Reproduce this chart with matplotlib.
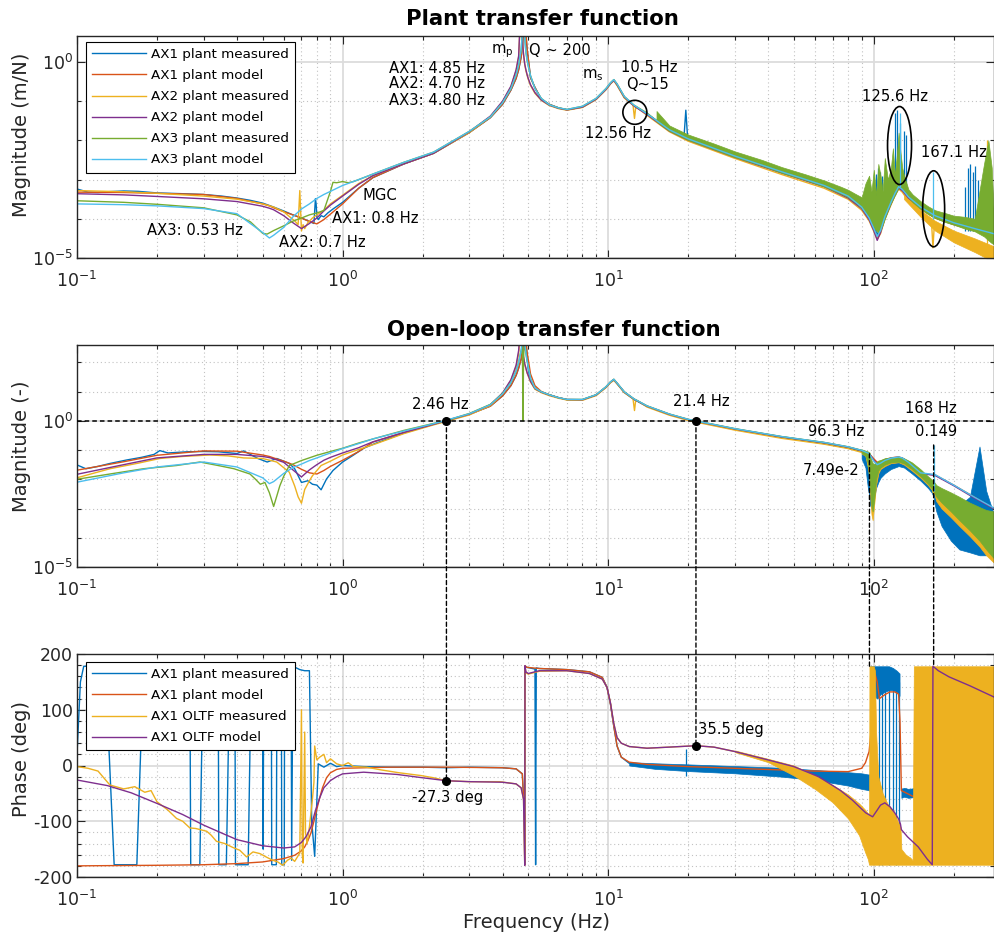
import numpy as np
import matplotlib
matplotlib.use("Agg")
import matplotlib.pyplot as plt
from matplotlib.patches import Ellipse, ConnectionPatch
from matplotlib.ticker import FixedLocator, FixedFormatter, LogLocator, MultipleLocator, NullFormatter
from matplotlib.transforms import ScaledTranslation

plt.rcParams['font.family'] = ['DejaVu Sans']
plt.rcParams['mathtext.fontset'] = 'dejavusans'
plt.rcParams['axes.unicode_minus'] = False

C_B = '#0072BD'; C_O = '#D95319'; C_Y = '#EDB120'; C_P = '#7E2F8E'; C_G = '#77AC30'; C_L = '#4DBEEE'
LW = 1.0

# ===================== DATA =====================
# common frequency grid of the model curves (Hz)
F_MODEL = [0.1, 0.15, 0.2, 0.3, 0.4, 0.5, 0.53, 0.55, 0.6, 0.65,
           0.7, 0.75, 0.8, 0.85, 0.9, 1.0, 1.15, 1.3, 1.7, 2.2,
           3.0, 3.6, 4.0, 4.3, 4.5, 4.6, 4.7, 4.75, 4.8, 4.85,
           4.9, 4.95, 5.0, 5.1, 5.3, 5.6, 6.0, 6.5, 7.0, 8.0,
           9.0, 9.8, 10.2, 10.5, 10.8, 11.5, 12.5, 14, 17, 20,
           30, 45, 65, 80, 90, 96, 100, 103, 106, 110,
           116, 120, 124, 128, 135, 150, 170, 200, 240, 283]

# ---- plant magnitude, log10(m/N) ----
PLANT_AX1_MODEL = [-3.32, -3.33, -3.35, -3.38, -3.48, -3.62, -3.67, -3.72, -3.82, -3.90,
                   -3.98, -4.07, -4.13, -4.02, -3.88, -3.62, -3.22, -2.95, -2.60, -2.33,
                   -1.80, -1.42, -1.08, -0.72, -0.42, -0.20, 0.12, 0.38, 0.80, 1.60,
                   0.75, 0.35, 0.10, -0.40, -0.65, -0.95, -1.08, -1.17, -1.22, -1.15,
                   -0.95, -0.70, -0.55, -0.46, -0.58, -0.90, -1.12, -1.33, -1.75, -1.98,
                   -2.42, -2.82, -3.17, -3.45, -3.72, -4.00, -4.25, -4.48, -4.30, -3.95,
                   -3.60, -3.38, -3.20, -3.26, -3.48, -3.75, -3.98, -4.15, -4.30, -4.42]
PLANT_AX2_MODEL = [-3.36, -3.39, -3.43, -3.49, -3.56, -3.68, -3.73, -3.77, -3.92, -4.10,
                   -4.25, -4.12, -3.98, -3.80, -3.65, -3.42, -3.12, -2.90, -2.60, -2.33,
                   -1.78, -1.38, -1.00, -0.62, -0.20, 0.15, 1.60, 0.60, 0.20, -0.05,
                   -0.20, -0.32, -0.42, -0.58, -0.78, -0.97, -1.10, -1.18, -1.22, -1.15,
                   -0.95, -0.70, -0.55, -0.47, -0.58, -0.90, -1.12, -1.34, -1.76, -1.99,
                   -2.43, -2.83, -3.18, -3.47, -3.74, -4.02, -4.30, -4.55, -4.35, -4.00,
                   -3.62, -3.40, -3.22, -3.28, -3.47, -3.72, -3.93, -4.10, -4.25, -4.36]
PLANT_AX3_MODEL = [-3.62, -3.64, -3.67, -3.74, -3.87, -4.35, -4.49, -4.42, -4.22, -3.95,
                   -3.75, -3.62, -3.48, -3.38, -3.30, -3.15, -3.00, -2.86, -2.56, -2.30,
                   -1.77, -1.40, -1.04, -0.68, -0.33, -0.08, 0.30, 0.75, 1.60, 0.60,
                   0.25, 0.05, -0.10, -0.35, -0.68, -0.93, -1.09, -1.17, -1.21, -1.13,
                   -0.93, -0.68, -0.53, -0.45, -0.56, -0.88, -1.10, -1.32, -1.73, -1.96,
                   -2.40, -2.80, -3.15, -3.42, -3.70, -3.98, -4.25, -4.45, -4.30, -3.95,
                   -3.58, -3.36, -3.18, -3.25, -3.44, -3.70, -3.92, -4.10, -4.25, -4.38]

F_PLANT_AX1_MEAS = [0.1, 0.105, 0.11, 0.12, 0.13, 0.15, 0.17, 0.2, 0.25, 0.3,
                    0.35, 0.4, 0.45, 0.5, 0.55, 0.6, 0.65, 0.7, 0.74, 0.78,
                    0.79, 0.795, 0.8, 0.81, 0.83, 0.85, 0.88, 0.92, 1.0, 1.15,
                    1.3, 1.7, 2.2, 3.0, 3.6, 4.0, 4.3, 4.5, 4.6, 4.7,
                    4.75, 4.8, 4.85, 4.9, 4.95, 5.0, 5.1, 5.3, 5.6, 6.0,
                    6.5, 7.0, 8.0, 9.0, 9.8, 10.2, 10.5, 10.8, 11.5, 12.5,
                    14, 17, 19.3, 19.6, 19.9, 30, 45, 65, 80, 90,
                    96, 100, 103, 106, 110, 116, 120, 124, 128, 135,
                    150, 170, 200, 240, 283]
PLANT_AX1_MEAS = [-3.24, -3.28, -3.32, -3.33, -3.31, -3.29, -3.30, -3.34, -3.36, -3.38,
                  -3.42, -3.47, -3.53, -3.60, -3.70, -3.80, -3.90, -3.98, -4.05, -4.12,
                  -3.49, -3.62, -3.95, -4.02, -3.92, -3.95, -3.85, -3.75, -3.58, -3.22,
                  -2.95, -2.60, -2.33, -1.80, -1.42, -1.08, -0.72, -0.42, -0.20, 0.12,
                  0.38, 0.80, 1.50, 0.70, 0.33, 0.08, -0.40, -0.65, -0.95, -1.08,
                  -1.17, -1.22, -1.15, -0.95, -0.70, -0.55, -0.46, -0.58, -0.90, -1.12,
                  -1.32, -1.72, -1.90, -1.23, -1.92, -2.38, -2.78, -3.12, -3.38, -3.62,
                  -3.90, -4.20, -4.40, -4.22, -3.90, -3.55, -3.32, -3.15, -3.22, -3.45,
                  -3.72, -3.95, -4.12, -4.22, -4.30]

F_PLANT_AX2_MEAS = [0.1, 0.15, 0.2, 0.3, 0.4, 0.5, 0.55, 0.6, 0.64, 0.66,
                    0.68, 0.69, 0.7, 0.71, 0.72, 0.74, 0.77, 0.8, 0.85, 0.9,
                    1.0, 1.15, 1.3, 1.7, 2.2, 3.0, 3.6, 4.0, 4.3, 4.5,
                    4.6, 4.7, 4.75, 4.8, 4.85, 4.9, 4.95, 5.0, 5.1, 5.3,
                    5.6, 6.0, 6.5, 7.0, 8.0, 9.0, 9.8, 10.2, 10.5, 10.8,
                    11.5, 12.4, 12.56, 12.7, 14, 17, 20, 30, 45, 65,
                    80, 90, 96, 100, 103, 106, 110, 116, 120, 124,
                    128, 135, 150, 165, 167, 169, 200, 240, 283]
PLANT_AX2_MEAS = [-3.28, -3.31, -3.35, -3.42, -3.50, -3.62, -3.70, -3.82, -3.98, -4.05,
                  -4.15, -3.28, -4.31, -4.15, -4.25, -4.10, -3.98, -3.90, -3.78, -3.62,
                  -3.40, -3.10, -2.90, -2.60, -2.33, -1.80, -1.40, -1.02, -0.64, -0.22,
                  0.12, 1.50, 0.55, 0.18, -0.07, -0.22, -0.34, -0.44, -0.60, -0.80,
                  -0.98, -1.11, -1.19, -1.23, -1.16, -0.96, -0.71, -0.56, -0.48, -0.60,
                  -0.92, -1.10, -1.44, -1.14, -1.36, -1.78, -2.02, -2.46, -2.87, -3.22,
                  -3.50, -3.78, -4.05, -4.32, -4.52, -4.38, -4.02, -3.65, -3.42, -3.24,
                  -3.32, -3.55, -3.85, -4.10, -4.74, -4.15, -4.40, -4.60, -4.80]

F_PLANT_AX3_MEAS = [0.1, 0.15, 0.2, 0.3, 0.4, 0.45, 0.5, 0.52, 0.55, 0.6,
                    0.65, 0.7, 0.75, 0.8, 0.85, 0.9, 0.92, 0.95, 1.0, 1.05,
                    1.1, 1.15, 1.3, 1.7, 2.2, 3.0, 3.6, 4.0, 4.3, 4.5,
                    4.6, 4.7, 4.75, 4.8, 4.85, 4.9, 4.95, 5.0, 5.1, 5.3,
                    5.6, 6.0, 6.5, 7.0, 8.0, 9.0, 9.8, 10.2, 10.5, 10.8,
                    11.5, 12.5, 14, 15.2]
PLANT_AX3_MEAS = [-3.54, -3.58, -3.63, -3.72, -3.90, -4.08, -4.37, -4.39, -4.30, -4.18,
                  -4.06, -3.98, -3.90, -3.85, -3.79, -3.30, -3.07, -3.08, -3.05, -3.08,
                  -3.05, -3.00, -2.86, -2.56, -2.30, -1.77, -1.40, -1.04, -0.68, -0.33,
                  -0.08, 0.30, 0.75, 1.50, 0.60, 0.25, 0.05, -0.10, -0.35, -0.68,
                  -0.93, -1.09, -1.17, -1.21, -1.13, -0.93, -0.68, -0.53, -0.45, -0.56,
                  -0.88, -1.10, -1.30, -1.50]
# noisy high-frequency part of AX3 plant measured (envelope, log10)
F_PLANT_AX3_BAND = [15.2, 17, 20, 25, 30, 38, 45, 55, 65, 75,
                    80, 85, 90, 93, 96, 98, 100, 102, 104, 106,
                    108, 110, 113, 116, 118, 120, 122, 124, 126, 128,
                    130, 135, 140, 150, 160, 170, 185, 200, 220, 240,
                    260, 270, 278, 283]
PLANT_AX3_BAND_LO = [-1.52, -1.76, -1.99, -2.23, -2.43, -2.65, -2.83, -3.01, -3.18, -3.36,
                     -3.45, -3.58, -3.73, -3.85, -3.98, -4.10, -4.22, -4.30, -4.35, -4.28,
                     -4.15, -4.00, -3.78, -3.60, -3.50, -3.40, -3.30, -3.20, -3.20, -3.25,
                     -3.30, -3.45, -3.58, -3.75, -3.88, -3.98, -4.08, -4.15, -4.25, -4.32,
                     -4.45, -4.55, -4.62, -4.65]
PLANT_AX3_BAND_HI = [-1.25, -1.62, -1.85, -2.08, -2.28, -2.50, -2.68, -2.86, -3.02, -3.18,
                     -3.26, -3.36, -3.45, -3.10, -2.90, -3.30, -2.75, -3.40, -2.60, -2.90,
                     -3.30, -2.45, -3.00, -2.70, -2.20, -2.90, -2.40, -1.80, -2.30, -2.70,
                     -2.90, -3.25, -3.38, -3.55, -3.68, -3.78, -3.85, -3.92, -3.95, -4.00,
                     -2.60, -2.00, -2.70, -3.90]
F_PLANT_AX2_BAND = [130, 150, 170, 200, 240, 283]
PLANT_AX2_BAND_LO = [-3.50, -3.95, -4.30, -4.60, -4.85, -5.10]
PLANT_AX2_BAND_HI = [-3.30, -3.78, -4.05, -4.30, -4.50, -4.70]
# isolated spikes (freq, log10 low, log10 high)
PLANT_AX1_SPIKE_F = [100.5, 102, 103.5, 105.5, 107.5, 109.5, 120, 122.4, 126, 129.7,
                     132.3, 221, 226, 231, 236, 241, 247, 253]
PLANT_AX1_SPIKE_LO = [-4.2, -4.3, -4.3, -4.2, -4.0, -3.9, -3.4, -3.3, -3.2, -3.3,
                      -3.4, -4.3, -4.3, -4.3, -4.3, -4.3, -4.3, -4.3]
PLANT_AX1_SPIKE_HI = [-3.0, -2.85, -2.7, -2.8, -2.9, -3.1, -1.3, -1.23, -1.55, -1.75,
                      -1.85, -3.2, -2.7, -2.6, -2.8, -2.65, -3.0, -3.3]
PLANT_AX2_SPIKE_F = [266]
PLANT_AX2_SPIKE_LO = [-4.9]
PLANT_AX2_SPIKE_HI = [-2.0]
PLANT_AX3_MODEL_SPIKE_F = [125.6, 167.1]
PLANT_AX3_MODEL_SPIKE_LO = [-3.2, -4.0]
PLANT_AX3_MODEL_SPIKE_HI = [-1.3, -2.81]

# ---- open-loop magnitude, log10(-) ----
OL_AX1_MODEL = [-1.69, -1.40, -1.18, -1.03, -1.04, -1.17, -1.22, -1.27, -1.38, -1.50,
                -1.66, -1.78, -1.82, -1.70, -1.56, -1.35, -1.05, -0.73, -0.40, -0.12,
                0.22, 0.50, 0.85, 1.20, 1.55, 1.80, 2.10, 2.35, 2.75, 3.50,
                2.75, 2.35, 2.10, 1.60, 1.20, 1.00, 0.89, 0.79, 0.72, 0.72,
                0.88, 1.15, 1.32, 1.41, 1.28, 0.98, 0.74, 0.50, 0.22, 0.04,
                -0.28, -0.55, -0.75, -0.90, -1.02, -1.12, -1.30, -1.42, -1.40, -1.33,
                -1.27, -1.25, -1.24, -1.27, -1.42, -1.80, -1.85, -2.20, -2.62, -3.00]
OL_AX2_MODEL = [-1.83, -1.50, -1.27, -1.15, -1.15, -1.22, -1.26, -1.30, -1.42, -1.68,
                -1.92, -1.68, -1.50, -1.35, -1.25, -1.10, -0.92, -0.72, -0.40, -0.12,
                0.23, 0.55, 0.95, 1.40, 1.90, 2.40, 3.50, 2.60, 2.20, 1.95,
                1.80, 1.65, 1.55, 1.35, 1.10, 0.98, 0.88, 0.79, 0.73, 0.72,
                0.88, 1.15, 1.32, 1.41, 1.28, 0.98, 0.74, 0.50, 0.22, 0.04,
                -0.28, -0.55, -0.75, -0.90, -1.02, -1.12, -1.35, -1.48, -1.43, -1.35,
                -1.28, -1.26, -1.25, -1.28, -1.43, -1.80, -1.87, -2.22, -2.65, -3.00]
OL_AX3_MODEL = [-2.10, -1.78, -1.58, -1.41, -1.58, -1.95, -2.15, -2.08, -1.80, -1.60,
                -1.48, -1.36, -1.27, -1.18, -1.10, -0.95, -0.78, -0.62, -0.35, -0.10,
                0.24, 0.55, 0.92, 1.30, 1.70, 2.00, 2.40, 2.80, 3.50, 2.70,
                2.30, 2.05, 1.85, 1.45, 1.12, 0.99, 0.89, 0.79, 0.73, 0.73,
                0.89, 1.16, 1.33, 1.42, 1.29, 0.99, 0.75, 0.51, 0.23, 0.05,
                -0.27, -0.54, -0.74, -0.89, -1.01, -1.12, -1.38, -1.50, -1.45, -1.36,
                -1.28, -1.26, -1.24, -1.27, -1.42, -1.78, -1.84, -2.20, -2.62, -2.98]

F_OL_AX1_MEAS = [0.1, 0.108, 0.12, 0.133, 0.154, 0.175, 0.195, 0.205, 0.22, 0.26,
                 0.3, 0.34, 0.4, 0.424, 0.48, 0.52, 0.565, 0.6, 0.63, 0.66,
                 0.7, 0.74, 0.77, 0.8, 0.83, 0.87, 0.92, 1.0, 1.1, 1.2,
                 1.34, 1.7, 2.2, 2.46, 3.0, 3.6, 4.0, 4.3, 4.5, 4.6,
                 4.7, 4.75, 4.8, 4.85, 4.9, 4.95, 5.0, 5.1, 5.3, 5.6,
                 6.0, 6.5, 7.0, 8.0, 9.0, 9.8, 10.2, 10.5, 10.8, 11.5,
                 12.5, 14, 17, 20, 30, 45, 65, 80, 90]
OL_AX1_MEAS = [-1.51, -1.64, -1.56, -1.46, -1.34, -1.25, -1.15, -1.02, -1.10, -1.06,
               -1.05, -1.06, -1.12, -1.03, -1.29, -1.41, -1.29, -1.38, -1.46, -1.64,
               -2.11, -2.05, -2.17, -2.20, -2.36, -1.99, -1.70, -1.41, -1.17, -0.94,
               -0.76, -0.42, -0.12, 0.00, 0.22, 0.50, 0.85, 1.20, 1.55, 1.80,
               2.10, 2.35, 2.75, 3.40, 2.70, 2.20, 1.75, 1.35, 1.10, 0.99,
               0.89, 0.79, 0.72, 0.72, 0.88, 1.15, 1.32, 1.40, 1.27, 0.97,
               0.73, 0.49, 0.21, 0.03, -0.29, -0.57, -0.78, -0.93, -1.05]
F_OL_AX2_MEAS = [0.1, 0.133, 0.17, 0.205, 0.25, 0.316, 0.37, 0.424, 0.5, 0.565,
                 0.63, 0.66, 0.68, 0.70, 0.72, 0.75, 0.77, 0.83, 0.9, 1.0,
                 1.15, 1.34, 1.7, 2.2, 2.46, 3.0, 3.6, 4.0, 4.3, 4.5,
                 4.6, 4.65, 4.7, 4.75, 4.8, 4.85, 4.9, 4.95, 5.0, 5.1,
                 5.3, 5.6, 6.0, 6.5, 7.0, 8.0, 9.0, 9.8, 10.2, 10.5,
                 10.8, 11.5, 12.4, 12.56, 12.7, 14, 17, 20, 30, 45,
                 65, 80, 90]
OL_AX2_MEAS = [-1.95, -1.64, -1.45, -1.29, -1.22, -1.17, -1.20, -1.27, -1.29, -1.41,
               -1.76, -2.23, -2.60, -2.82, -2.35, -2.05, -1.88, -1.53, -1.38, -1.17,
               -0.98, -0.78, -0.44, -0.14, -0.02, 0.20, 0.52, 0.92, 1.38, 1.85,
               2.30, 2.80, 3.40, 2.50, 2.15, 1.92, 1.78, 1.63, 1.53, 1.33,
               1.08, 0.96, 0.86, 0.77, 0.71, 0.70, 0.86, 1.13, 1.30, 1.38,
               1.26, 0.96, 0.75, 0.35, 0.72, 0.47, 0.19, 0.01, -0.32, -0.60,
               -0.80, -0.95, -1.08]
F_OL_AX3_MEAS = [0.1, 0.133, 0.178, 0.237, 0.29, 0.34, 0.39, 0.448, 0.47, 0.49,
                 0.51, 0.53, 0.55, 0.565, 0.58, 0.6, 0.63, 0.7, 0.8, 0.9,
                 1.0, 1.15, 1.34, 1.7, 2.2, 2.46, 3.0, 3.6, 4.0, 4.3,
                 4.5, 4.6, 4.7, 4.75, 4.78, 4.8, 4.85, 4.9, 4.95, 5.0,
                 5.1, 5.3, 5.6, 6.0, 6.5, 7.0, 8.0, 9.0, 9.8, 10.2,
                 10.5, 10.8, 11.5, 12.5, 14, 17, 20, 30, 45, 65,
                 80, 90]
OL_AX3_MEAS = [-2.00, -1.82, -1.64, -1.53, -1.41, -1.53, -1.64, -1.82, -2.00, -2.17,
               -2.11, -2.46, -2.93, -2.58, -2.23, -1.90, -1.53, -1.36, -1.18, -1.05,
               -0.94, -0.76, -0.59, -0.33, -0.09, 0.01, 0.25, 0.56, 0.93, 1.30,
               1.70, 2.00, 2.40, 2.60, 0.00, 2.20, 2.70, 2.30, 2.05, 1.85,
               1.45, 1.12, 0.99, 0.89, 0.79, 0.73, 0.73, 0.89, 1.16, 1.33,
               1.42, 1.29, 0.99, 0.75, 0.51, 0.23, 0.05, -0.27, -0.54, -0.74,
               -0.89, -1.01]
# noisy high-frequency envelopes of the open-loop measurements (log10)
F_OL_BAND = [90, 93, 95, 96.3, 97, 98, 99, 100, 101, 102,
             104, 106, 110, 116, 124, 130, 139, 150, 160, 165,
             167, 168, 169, 172, 180, 195, 210, 230, 250, 265, 283]
OL_AX1_BAND_LO = [-1.3, -1.6, -2.3, -2.6, -2.9, -3.0, -2.9, -2.7, -2.5, -2.3,
                  -2.1, -1.95, -1.8, -1.65, -1.55, -1.6, -1.8, -2.05, -2.3, -2.45,
                  -2.55, -2.6, -2.8, -3.1, -3.6, -4.1, -4.4, -4.5, -4.6, -4.6, -4.5]
OL_AX1_BAND_HI = [-1.0, -1.05, -1.1, -1.15, -1.35, -1.45, -1.5, -1.5, -1.48, -1.44,
                  -1.4, -1.36, -1.3, -1.27, -1.25, -1.3, -1.45, -1.7, -1.95, -2.05,
                  -2.1, -2.1, -2.15, -2.3, -2.5, -2.7, -2.9, -2.6, -0.88, -2.4, -3.2]
OL_AX2_BAND_LO = [-1.12, -1.2, -1.6, -2.0, -2.6, -3.2, -3.4, -3.0, -2.6, -2.2,
                  -1.8, -1.65, -1.55, -1.45, -1.42, -1.50, -1.70, -1.95, -2.2, -2.35,
                  -2.5, -2.45, -2.5, -2.75, -3.0, -3.3, -3.6, -3.95, -4.3, -4.6, -4.85]
OL_AX2_BAND_HI = [-1.0, -1.05, -1.08, -1.12, -1.3, -1.45, -1.5, -1.52, -1.5, -1.45,
                  -1.4, -1.38, -1.32, -1.28, -1.26, -1.32, -1.45, -1.7, -1.95, -2.05,
                  -2.1, -2.1, -2.15, -2.3, -2.45, -2.6, -2.8, -3.0, -3.2, -3.4, -3.6]
OL_AX3_BAND_LO = [-1.1, -1.2, -1.45, -1.9, -2.4, -2.9, -3.1, -2.8, -2.4, -2.0,
                  -1.7, -1.6, -1.5, -1.42, -1.4, -1.46, -1.65, -1.9, -2.15, -2.3,
                  -2.4, -2.4, -2.45, -2.6, -2.8, -3.1, -3.4, -3.75, -4.1, -4.4, -4.7]
OL_AX3_BAND_HI = [-0.98, -1.02, -1.05, -1.08, -1.2, -1.35, -1.45, -1.48, -1.46, -1.42,
                  -1.36, -1.34, -1.28, -1.25, -1.22, -1.28, -1.42, -1.66, -1.9, -2.0,
                  -2.05, -2.05, -2.1, -2.2, -2.3, -2.45, -2.6, -2.8, -2.95, -3.05, -3.1]
OL_AX3_MODEL_SPIKE_F = [168.0]
OL_AX3_MODEL_SPIKE_LO = [-2.4]
OL_AX3_MODEL_SPIKE_HI = [-0.83]

# ---- phase (deg) ----
F_PH_PLANT_MODEL = [0.1, 0.2, 0.3, 0.4, 0.5, 0.6, 0.66, 0.7, 0.72, 0.74,
                    0.76, 0.78, 0.8, 0.82, 0.84, 0.87, 0.9, 0.95, 1.0, 1.5,
                    2.5, 4.0, 4.5, 4.75, 4.84, 4.85, 4.86, 4.95, 5.5, 7.0,
                    8.5, 9.5, 9.9, 10.2, 10.5, 10.8, 11.2, 12, 14, 20,
                    30, 45, 60, 80, 90, 93, 96, 99, 100, 101,
                    103, 105, 110, 115, 120, 124, 125.5, 127, 140, 160,
                    200, 283]
PH_PLANT_MODEL = [-180, -179, -178, -176, -173, -167, -161, -153, -146, -135,
                  -121, -100, -78, -58, -40, -22, -13, -7, -5, -3,
                  -3, -4, -6, -15, -90, -179, 179, 176, 174, 172,
                  168, 158, 140, 110, 70, 35, 15, 6, 2, -2,
                  -5, -8, -10, -11, -5, 5, 25, 90, 140, 165,
                  150, 120, 127, 132, 132, 128, 80, -45, -55, -62,
                  -70, -75]
F_PH_OLTF_MODEL = [0.1, 0.13, 0.16, 0.2, 0.25, 0.3, 0.35, 0.4, 0.5, 0.6,
                   0.66, 0.7, 0.73, 0.76, 0.79, 0.82, 0.85, 0.9, 0.95, 1.0,
                   1.2, 1.6, 2.0, 2.46, 3.0, 4.0, 4.5, 4.7, 4.8, 4.85,
                   4.86, 4.9, 5.0, 5.5, 7.0, 8.5, 9.5, 9.9, 10.2, 10.5,
                   10.8, 11.2, 12, 14, 17, 21.4, 25, 30, 40, 50,
                   62, 75, 83, 90, 93.3, 99, 103, 106, 110, 115,
                   120, 124, 126, 127, 134, 147, 159, 166, 167, 175,
                   192, 230, 283]
PH_OLTF_MODEL = [-26, -36, -49, -68, -88, -107, -121, -133, -144, -148,
                 -146, -138, -127, -110, -81, -58, -40, -27, -20, -15,
                 -12, -16, -22, -27.3, -29, -30, -33, -40, -60, -179,
                 179, 168, 165, 170, 170, 165, 155, 140, 112, 75,
                 50, 40, 34, 31, 33, 35.5, 33, 25, 10, -2,
                 -20, -45, -62, -78, -85, -92, -80, -71, -67, -74,
                 -85, -96, -105, -115, -128, -146, -168, -178, 178, 170,
                 159, 143, 123]
F_PH_OLTF_MEAS = [0.1, 0.11, 0.12, 0.133, 0.15, 0.165, 0.18, 0.19, 0.2, 0.22,
                  0.237, 0.25, 0.266, 0.28, 0.308, 0.32, 0.335, 0.36, 0.386, 0.41,
                  0.435, 0.46, 0.488, 0.52, 0.546, 0.57, 0.595, 0.62, 0.64, 0.66,
                  0.69, 0.70, 0.705, 0.71, 0.72, 0.725, 0.735, 0.75, 0.77, 0.78,
                  0.785, 0.8, 0.82, 0.85, 0.87, 0.9, 0.95, 1.0, 1.05, 1.1,
                  1.23, 1.4, 1.63, 1.97, 2.2, 2.46, 3.0, 3.9, 4.5, 4.7,
                  4.8, 4.85, 4.86, 4.9, 5.0, 5.5, 7.0, 8.5, 9.5, 9.9,
                  10.2, 10.5, 10.8, 11.2, 12, 14, 17, 21.4, 25, 30]
PH_OLTF_MEAS = [-2, -5, -10, -35, -42, -38, -48, -45, -65, -80,
                -95, -100, -112, -113, -118, -125, -136, -140, -147, -152,
                -164, -155, -158, -165, -170, -173, -179, -170, -166, -172,
                -157, 100, -160, -175, 60, -120, -140, -110, -60, -30,
                35, 10, 15, 20, 5, 12, 3, 0, 5, -2,
                -3, -8, -13, -18, -22, -27.3, -29, -29, -33, -40,
                -60, -178, 178, 166, 164, 169, 170, 165, 155, 140,
                112, 75, 50, 40, 34, 31, 33, 35.5, 33, 25]
F_PH_OLTF_BAND = [30, 40, 50, 60, 70, 80, 88, 93, 95, 96.0,
                  96.3, 98, 100, 101, 102, 104, 108, 113, 118, 123,
                  126, 127, 132, 137, 140, 141.5, 143, 283]
PH_OLTF_BAND_LO = [24, 6, -18, -42, -66, -95, -125, -157, -168, -178,
                   -178, -178, -178, -178, -178, -178, -178, -178, -178, -178,
                   -178, -178, -178, -178, -178, -178, -178, -178]
PH_OLTF_BAND_HI = [27, 12, 0, -18, -35, -52, -68, -80, -86, -88,
                   178, 178, 178, 170, 60, -20, -50, -70, -80, -100,
                   -110, -150, -160, -165, -170, 178, 178, 178]
F_PH_PLANT_MEAS = [0.1, 0.103, 0.106, 0.126, 0.128, 0.138, 0.168, 0.178, 0.266, 0.268,
                   0.29, 0.2985, 0.34, 0.342, 0.35, 0.365, 0.376, 0.393, 0.395, 0.441,
                   0.453, 0.500, 0.502, 0.505, 0.539, 0.541, 0.563, 0.566, 0.588, 0.59,
                   0.603, 0.605, 0.64, 0.643, 0.65, 0.69, 0.72, 0.75, 0.765, 0.785,
                   0.81, 0.85, 0.9, 0.95, 1.0, 1.2, 1.5, 2.0, 2.46, 3.0,
                   4.0, 4.5, 4.75, 4.84, 4.85, 4.86, 4.95, 5.3, 5.33, 5.36,
                   5.5, 7.0, 8.5, 9.5, 9.9, 10.2, 10.5, 10.8, 11.2, 12]
PH_PLANT_MEAS = [20, 150, 178, 178, 170, -178, -178, 178, 178, -178,
                 -178, 178, 178, -178, -178, -178, 178, 178, -178, -178,
                 178, 178, -150, 178, 178, -178, -178, 178, 178, -178,
                 -178, 178, 178, -170, 178, 172, 170, 170, -100, -163,
                 3, -3, 4, -2, 0, -2, -3, -3, -4, -3,
                 -4, -6, -15, -90, -178, 178, 176, 173, -178, 175,
                 174, 172, 168, 158, 140, 110, 70, 35, 15, 4]
F_PH_PLANT_BAND1 = [12, 15, 20, 30, 45, 60, 80, 90, 95, 96.3]
PH_PLANT_BAND1_LO = [0, -6, -10, -14, -20, -26, -36, -42, -44, -45]
PH_PLANT_BAND1_HI = [6, 4, 2, -1, -4, -8, -12, -14, -16, -16]
F_PH_PLANT_BAND2 = [97, 100, 103, 106, 110, 114, 118, 122, 125]
PH_PLANT_BAND2_LO = [150, 125, 120, 128, 132, 135, 135, 132, 125]
PH_PLANT_BAND2_HI = [178, 178, 178, 178, 178, 178, 175, 170, 165]
F_PH_PLANT_BAND3 = [127, 130, 135, 140, 142]
PH_PLANT_BAND3_LO = [-58, -56, -58, -57, -56]
PH_PLANT_BAND3_HI = [-42, -40, -42, -41, -40]
PH_PLANT_SPIKE_F = [19.6, 104.4, 107.4, 110.6, 113.8, 117.8, 121.3, 124.2]
PH_PLANT_SPIKE_LO = [-18, -178, -178, -170, -178, -165, -178, -150]
PH_PLANT_SPIKE_HI = [30, 150, 140, 150, 140, 150, 140, 150]

# ---- marked points ----
UGF_FREQ = [2.46, 21.4]
UGF_PHASE = [-27.3, 35.5]
GM_FREQ = [96.3, 168.0]
GM_MAG = [7.49e-2, 0.149]
GM_PHASE_TOP = [178, 178]

# ===================== FIGURE =====================
W, H, DPI = 994, 940, 100
fig = plt.figure(figsize=(W / DPI, H / DPI), dpi=DPI)


def px_axes(left, top, right, bottom):
    return fig.add_axes([left / W, 1 - bottom / H, (right - left) / W, (bottom - top) / H])


ax1 = px_axes(77, 36, 994, 258)
ax2 = px_axes(77, 345, 994, 567)
ax3 = px_axes(77, 654, 994, 877)


def L(v):
    return 10.0 ** np.asarray(v, dtype=float)


# z-order follows the plotting order of the series (later series on top)
Z1, Z2, Z3, Z4, Z5, Z6 = 2.0, 2.1, 2.2, 2.3, 2.4, 2.5

# ---------- plant ----------
h1, = ax1.plot(F_PLANT_AX1_MEAS, L(PLANT_AX1_MEAS), color=C_B, lw=LW, label='AX1 plant measured', zorder=Z1)
ax1.vlines(PLANT_AX1_SPIKE_F, L(PLANT_AX1_SPIKE_LO), L(PLANT_AX1_SPIKE_HI), colors=C_B, lw=0.9, zorder=Z1)
h2, = ax1.plot(F_MODEL, L(PLANT_AX1_MODEL), color=C_O, lw=LW, label='AX1 plant model', zorder=Z2)
h3, = ax1.plot(F_PLANT_AX2_MEAS, L(PLANT_AX2_MEAS), color=C_Y, lw=LW, label='AX2 plant measured', zorder=Z3)
ax1.fill_between(F_PLANT_AX2_BAND, L(PLANT_AX2_BAND_LO), L(PLANT_AX2_BAND_HI), color=C_Y, lw=0.5, zorder=Z3)
ax1.vlines(PLANT_AX2_SPIKE_F, L(PLANT_AX2_SPIKE_LO), L(PLANT_AX2_SPIKE_HI), colors=C_Y, lw=0.9, zorder=Z3)
h4, = ax1.plot(F_MODEL, L(PLANT_AX2_MODEL), color=C_P, lw=LW, label='AX2 plant model', zorder=Z4)
h5, = ax1.plot(F_PLANT_AX3_MEAS, L(PLANT_AX3_MEAS), color=C_G, lw=LW, label='AX3 plant measured', zorder=Z5)
ax1.fill_between(F_PLANT_AX3_BAND, L(PLANT_AX3_BAND_LO), L(PLANT_AX3_BAND_HI), color=C_G, lw=0.5, zorder=Z5)
h6, = ax1.plot(F_MODEL, L(PLANT_AX3_MODEL), color=C_L, lw=LW, label='AX3 plant model', zorder=Z6)
ax1.vlines(PLANT_AX3_MODEL_SPIKE_F, L(PLANT_AX3_MODEL_SPIKE_LO), L(PLANT_AX3_MODEL_SPIKE_HI), colors=C_L, lw=0.9, zorder=Z6)

# ---------- open loop ----------
ax2.plot(F_OL_AX1_MEAS, L(OL_AX1_MEAS), color=C_B, lw=LW, zorder=Z1)
ax2.fill_between(F_OL_BAND, L(OL_AX1_BAND_LO), L(OL_AX1_BAND_HI), color=C_B, lw=0.5, zorder=Z1)
ax2.plot(F_MODEL, L(OL_AX1_MODEL), color=C_O, lw=LW, zorder=Z2)
ax2.plot(F_OL_AX2_MEAS, L(OL_AX2_MEAS), color=C_Y, lw=LW, zorder=Z3)
ax2.fill_between(F_OL_BAND, L(OL_AX2_BAND_LO), L(OL_AX2_BAND_HI), color=C_Y, lw=0.5, zorder=Z3)
ax2.plot(F_MODEL, L(OL_AX2_MODEL), color=C_P, lw=LW, zorder=Z4)
ax2.plot(F_OL_AX3_MEAS, L(OL_AX3_MEAS), color=C_G, lw=LW, zorder=Z5)
ax2.fill_between(F_OL_BAND, L(OL_AX3_BAND_LO), L(OL_AX3_BAND_HI), color=C_G, lw=0.5, zorder=Z5)
ax2.plot(F_MODEL, L(OL_AX3_MODEL), color=C_L, lw=LW, zorder=Z6)
ax2.vlines(OL_AX3_MODEL_SPIKE_F, L(OL_AX3_MODEL_SPIKE_LO), L(OL_AX3_MODEL_SPIKE_HI), colors=C_L, lw=0.9, zorder=Z6)
ax2.axhline(1.0, color='k', lw=1.1, ls=(0, (3, 2)), zorder=6)
ax2.plot(UGF_FREQ, [1.0, 1.0], 'o', color='k', ms=5.5, zorder=7)

# ---------- phase ----------
g1, = ax3.plot(F_PH_PLANT_MEAS, PH_PLANT_MEAS, color=C_B, lw=LW, label='AX1 plant measured', zorder=Z1)
ax3.fill_between(F_PH_PLANT_BAND1, PH_PLANT_BAND1_LO, PH_PLANT_BAND1_HI, color=C_B, lw=0.5, zorder=Z1)
ax3.fill_between(F_PH_PLANT_BAND2, PH_PLANT_BAND2_LO, PH_PLANT_BAND2_HI, color=C_B, lw=0.5, zorder=Z1)
ax3.fill_between(F_PH_PLANT_BAND3, PH_PLANT_BAND3_LO, PH_PLANT_BAND3_HI, color=C_B, lw=0.5, zorder=Z1)
ax3.vlines(PH_PLANT_SPIKE_F, PH_PLANT_SPIKE_LO, PH_PLANT_SPIKE_HI, colors=C_B, lw=0.9, zorder=Z1)
g2, = ax3.plot(F_PH_PLANT_MODEL, PH_PLANT_MODEL, color=C_O, lw=LW, label='AX1 plant model', zorder=Z2)
g3, = ax3.plot(F_PH_OLTF_MEAS, PH_OLTF_MEAS, color=C_Y, lw=LW, label='AX1 OLTF measured', zorder=Z3)
ax3.fill_between(F_PH_OLTF_BAND, PH_OLTF_BAND_LO, PH_OLTF_BAND_HI, color=C_Y, lw=0.5, zorder=Z3)
g4, = ax3.plot(F_PH_OLTF_MODEL, PH_OLTF_MODEL, color=C_P, lw=LW, label='AX1 OLTF model', zorder=Z4)
ax3.plot(UGF_FREQ, UGF_PHASE, 'o', color='k', ms=5.5, zorder=7)

# ---------- axes styling ----------
AXC = '#262626'
for ax in (ax1, ax2, ax3):
    ax.set_xscale('log')
    ax.set_xlim(0.1, 283.5)
    ax.xaxis.set_major_locator(FixedLocator([0.1, 1, 10, 100]))
    ax.xaxis.set_major_formatter(FixedFormatter([r'$10^{-1}$', r'$10^{0}$', r'$10^{1}$', r'$10^{2}$']))
    ax.xaxis.set_minor_locator(LogLocator(base=10, subs=np.arange(2, 10), numticks=20))
    ax.xaxis.set_minor_formatter(NullFormatter())
    ax.tick_params(which='both', direction='in', top=True, right=True, colors=AXC,
                   labelsize=12.5, width=0.8)
    ax.tick_params(which='major', length=6)
    ax.tick_params(which='minor', length=3)
    ax.tick_params(axis='x', pad=9)
    ax.tick_params(axis='y', pad=3)
    for s in ax.spines.values():
        s.set_color(AXC)
        s.set_linewidth(1.0)
    ax.set_axisbelow(True)
    ax.grid(True, which='major', color='#dcdcdc', lw=1.3, ls='-')
    ax.grid(True, which='minor', color='#c2c2c2', lw=0.8, ls=(0, (1, 2.5)))

for ax, top in ((ax1, 4.6), (ax2, 390.0)):
    ax.set_yscale('log')
    ax.set_ylim(1e-5, top)
    ax.yaxis.set_major_locator(FixedLocator([1e-5, 1]))
    ax.yaxis.set_major_formatter(FixedFormatter([r'$10^{-5}$', r'$10^{0}$']))
    ax.yaxis.set_minor_locator(FixedLocator([1e-4, 1e-3, 1e-2, 1e-1, 10, 100]))
    ax.yaxis.set_minor_formatter(NullFormatter())

ax3.set_ylim(-200, 200)
ax3.yaxis.set_major_locator(MultipleLocator(100))
ax3.yaxis.set_minor_locator(MultipleLocator(20))

# legends
leg_kw = dict(loc='upper left', fontsize=9.7, frameon=True, fancybox=False, edgecolor='k',
              framealpha=1, borderaxespad=0, handlelength=4.0, handletextpad=0.4,
              labelspacing=0.6, borderpad=0.45)
lg1 = ax1.legend(handles=[h1, h2, h3, h4, h5, h6], bbox_to_anchor=(9 / 917, 1 - 6 / 222), **leg_kw)
lg1.get_frame().set_linewidth(0.8)
lg1.set_zorder(10)
lg3 = ax3.legend(handles=[g1, g2, g3, g4], bbox_to_anchor=(9 / 917, 1 - 8 / 223), **leg_kw)
lg3.get_frame().set_linewidth(0.8)
lg3.set_zorder(10)

# ---------- annotations ----------
TF = 10.6
ax1.text(4.0, 1.91, r'm$_\mathrm{p}$', fontsize=TF, ha='center', va='center')
ax1.text(6.6, 1.95, 'Q ~ 200', fontsize=TF, ha='center', va='center')
ax1.text(1.50, 0.70, 'AX1: 4.85 Hz', fontsize=TF, ha='left', va='center')
ax1.text(1.50, 0.29, 'AX2: 4.70 Hz', fontsize=TF, ha='left', va='center')
ax1.text(1.50, 0.106, 'AX3: 4.80 Hz', fontsize=TF, ha='left', va='center')
ax1.text(8.78, 0.46, r'm$_\mathrm{s}$', fontsize=TF, ha='center', va='center')
ax1.text(14.3, 0.73, '10.5 Hz', fontsize=TF, ha='center', va='center')
ax1.text(14.0, 0.27, 'Q~15', fontsize=TF, ha='center', va='center')
ax1.text(10.86, 0.0148, '12.56 Hz', fontsize=TF, ha='center', va='center')
ax1.text(120.5, 0.129, '125.6 Hz', fontsize=TF, ha='center', va='center')
ax1.text(200, 0.00483, '167.1 Hz', fontsize=TF, ha='center', va='center')
ax1.text(1.38, 3.9e-4, 'MGC', fontsize=TF, ha='center', va='center')
ax1.text(1.33, 1.04e-4, 'AX1: 0.8 Hz', fontsize=TF, ha='center', va='center')
ax1.text(0.277, 4.9e-5, 'AX3: 0.53 Hz', fontsize=TF, ha='center', va='center')
ax1.text(0.841, 2.46e-5, 'AX2: 0.7 Hz', fontsize=TF, ha='center', va='center')

ax2.text(2.33, 3.66, '2.46 Hz', fontsize=TF, ha='center', va='center')
ax2.text(22.5, 4.41, '21.4 Hz', fontsize=TF, ha='center', va='center')
ax2.text(72.3, 0.42, '96.3 Hz', fontsize=TF, ha='center', va='center')
ax2.text(69.2, 0.02, '7.49e-2', fontsize=TF, ha='center', va='center')
ax2.text(164.4, 2.65, '168 Hz', fontsize=TF, ha='center', va='center')
ax2.text(171, 0.42, '0.149', fontsize=TF, ha='center', va='center')

ax3.text(2.48, -57.7, '-27.3 deg', fontsize=TF, ha='center', va='center')
ax3.text(29.0, 63.7, '35.5 deg', fontsize=TF, ha='center', va='center')


def ellipse(ax, f, m, w_px, h_px):
    trans = fig.dpi_scale_trans + ScaledTranslation(f, m, ax.transData)
    e = Ellipse((0, 0), w_px / DPI, h_px / DPI, transform=trans, fill=False,
                ec='k', lw=1.2)
    fig.add_artist(e)


ellipse(ax1, 12.6, 0.052, 24, 24)
ellipse(ax1, 125.0, 0.0074, 24, 78)
ellipse(ax1, 168.0, 1.8e-4, 22, 76)

# dashed connectors between open-loop magnitude and phase
for f, ph in zip(UGF_FREQ, UGF_PHASE):
    con = ConnectionPatch(xyA=(f, 1.0), coordsA=ax2.transData, xyB=(f, ph), coordsB=ax3.transData,
                          color='k', lw=1.0, ls=(0, (3, 2)))
    fig.add_artist(con)
for f, m, ph in zip(GM_FREQ, GM_MAG, GM_PHASE_TOP):
    con = ConnectionPatch(xyA=(f, m), coordsA=ax2.transData, xyB=(f, ph), coordsB=ax3.transData,
                          color='k', lw=1.0, ls=(0, (3, 2)))
    fig.add_artist(con)

# titles and labels
fig.text(542.5 / W, 1 - 19 / H, 'Plant transfer function', fontsize=15.3, fontweight='bold',
         ha='center', va='center')
fig.text(553.7 / W, 1 - 330 / H, 'Open-loop transfer function', fontsize=15.3, fontweight='bold',
         ha='center', va='center')
fig.text(22 / W, 1 - 135 / H, 'Magnitude (m/N)', fontsize=14, rotation=90, ha='center', va='center', color=AXC)
fig.text(22 / W, 1 - 446.7 / H, 'Magnitude (-)', fontsize=14, rotation=90, ha='center', va='center', color=AXC)
fig.text(22 / W, 1 - 759 / H, 'Phase (deg)', fontsize=14, rotation=90, ha='center', va='center', color=AXC)
fig.text(536.5 / W, 1 - 922 / H, 'Frequency (Hz)', fontsize=14, ha='center', va='center', color=AXC)

fig.savefig('out.png', dpi=DPI)
